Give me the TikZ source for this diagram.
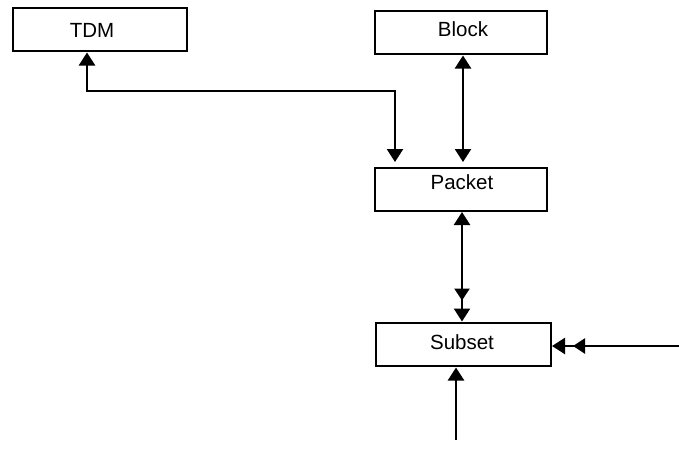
\documentclass[tikz,border=0pt]{standalone}
\usepackage{fontspec}
\setmainfont{Liberation Sans}
\usetikzlibrary{arrows.meta}
\begin{document}
\begin{tikzpicture}[x=1pt,y=-1pt,
  box/.style={draw,line width=2pt,inner sep=0pt,minimum width=#1,minimum height=43pt},
  lbl/.style={inner sep=0pt,font=\fontsize{20.5}{24}\selectfont},
  link/.style={line width=2.4pt},
  tip/.tip={Triangle[length=13pt,width=16pt]},
  gaptip/.tip={Triangle[length=12pt,width=15pt,sep=8pt]}]
\useasboundingbox (0,0) rectangle (679,452);

% boxes
\node[box=174pt] (tdm)    at (99.5,30)  {};
\node[box=172pt] (block)  at (460.5,33) {};
\node[box=172pt] (packet) at (460.5,189.5) {};
\node[box=175pt] (subset) at (463.5,344) {};

% labels
\node[lbl] (tdmt)    at (92,30)   {TDM};
\node[lbl] (blockt)  at (463,29)  {Block};
\node[lbl] (packett) at (462,182) {Packet};
\node[lbl] (subsett) at (462,342) {Subset};

% routing points
\coordinate (ta) at (87,91);
\coordinate (tb) at (395,91);
\coordinate (bp) at (463,0);
\coordinate (ps) at (462,0);
\coordinate (rin) at (679,346);
\coordinate (bin) at (456,440);

% connectors
\draw[link,{tip[]}-{tip[]},shorten >=5pt] (tdm.south -| ta) -- (ta) -- (tb) -- (packet.north -| tb);
\draw[link,{tip[]}-{tip[]},shorten >=5pt] (block.south -| bp) -- (packet.north -| bp);
\draw[link,{tip[]}-{gaptip[]tip[]}] (packet.south -| ps) -- (subset.north -| ps);
\draw[link,-{gaptip[]tip[]}] (rin) -- (subset.east |- rin);
\draw[link,-{tip[]},shorten >=1pt] (bin) -- (subset.south -| bin);
\end{tikzpicture}
\end{document}
